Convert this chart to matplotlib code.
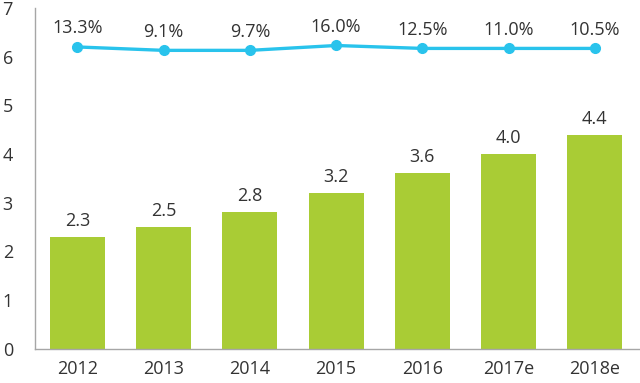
import matplotlib
matplotlib.use("Agg")
import matplotlib.pyplot as plt

# categories and values
years = ["2012", "2013", "2014", "2015", "2016", "2017e", "2018e"]
sales = [2.3, 2.5, 2.8, 3.2, 3.6, 4.0, 4.4]
growth = [6.2, 6.13, 6.13, 6.23, 6.17, 6.17, 6.17]
growth_labels = ["13.3%", "9.1%", "9.7%", "16.0%", "12.5%", "11.0%", "10.5%"]

plt.rcParams["font.family"] = ["Open Sans", "DejaVu Sans"]
txt_col = "#333333"

fig = plt.figure(figsize=(6.4, 3.83), dpi=100)
ax = fig.add_axes([0.055, 0.09, 0.943, 0.889])

x = range(len(years))
ax.bar(x, sales, width=0.64, color="#A9CC35", zorder=2)
for i, v in enumerate(sales):
    ax.annotate("%.1f" % v, (i, v), xytext=(0, 5), textcoords="offset points",
                ha="center", va="bottom", fontsize=13, color=txt_col)

ax.plot(x, growth, color="#29C3EC", lw=2.4, marker="o", ms=7, zorder=3)
for i, v in enumerate(growth):
    ax.annotate(growth_labels[i], (i, v), xytext=(0, 7), textcoords="offset points",
                ha="center", va="bottom", fontsize=13, color=txt_col)

ax.set_xlim(-0.49, 6.51)
ax.set_ylim(0, 7)
ax.set_yticks(range(0, 8))
ax.set_xticks(list(x))
ax.set_xticklabels(years)
ax.tick_params(axis="both", length=0, labelsize=13, labelcolor=txt_col)
ax.tick_params(axis="y", pad=16)
ax.tick_params(axis="x", pad=8)
for s in ["top", "right"]:
    ax.spines[s].set_visible(False)
for s in ["left", "bottom"]:
    ax.spines[s].set_color("#A6A6A6")
    ax.spines[s].set_linewidth(1.0)

fig.savefig("out.png", dpi=100)
